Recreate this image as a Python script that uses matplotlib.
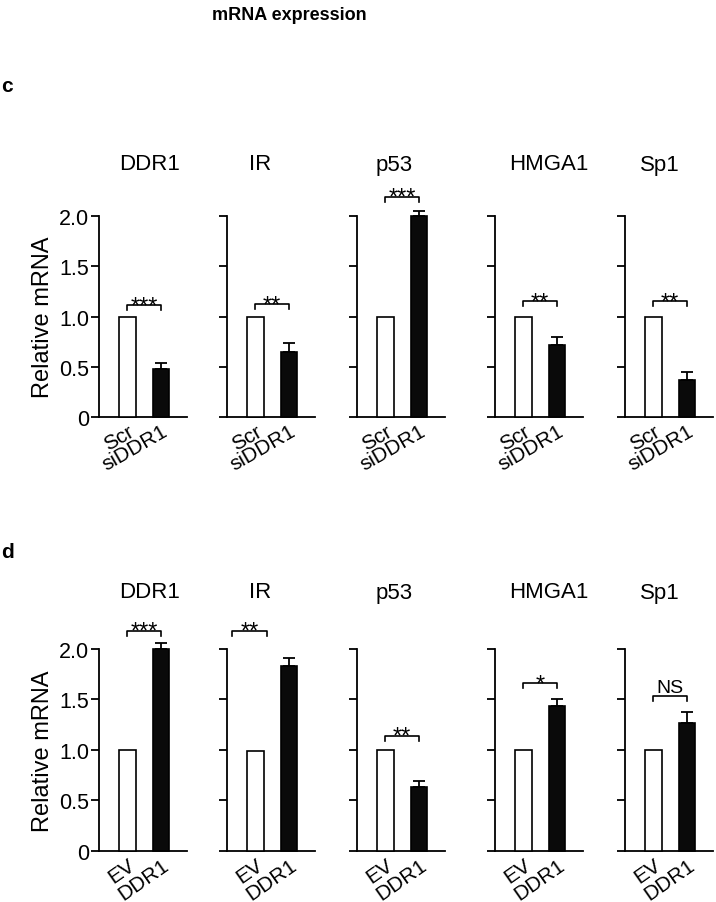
import matplotlib
matplotlib.use("Agg")
import matplotlib.pyplot as plt

plt.rcParams['font.family'] = ['Liberation Sans', 'DejaVu Sans']

# data
genes = ['DDR1', 'IR', 'p53', 'HMGA1', 'Sp1']
yticks = [0, 0.5, 1.0, 1.5, 2.0]
ytick_labels = ['0', '0.5', '1.0', '1.5', '2.0']

# panel c: knockdown
c_groups = ['Scr', 'siDDR1']
c_ctrl = [1.0, 1.0, 1.0, 1.0, 1.0]
c_kd = [0.48, 0.65, 2.0, 0.72, 0.37]
c_kd_err = [0.06, 0.09, 0.05, 0.08, 0.08]
c_sig = ['***', '**', '***', '**', '**']
c_brk_y = [1.11, 1.12, 2.19, 1.15, 1.15]
c_brk_x = [(0, 1), (0, 1), (0, 1), (0, 1), (0, 1)]

# panel d: overexpression
d_groups = ['EV', 'DDR1']
d_ctrl = [1.0, 0.99, 1.0, 1.0, 1.0]
d_oe = [2.0, 1.83, 0.63, 1.43, 1.27]
d_oe_err = [0.06, 0.08, 0.06, 0.07, 0.11]
d_sig = ['***', '**', '**', '*', 'NS']
d_brk_y = [2.18, 2.18, 1.14, 1.66, 1.53]
d_brk_x = [(0, 1), (-0.7, 0.35), (0, 1), (0, 1), (0, 1)]

W, H = 716, 903
fig = plt.figure(figsize=(W / 100, H / 100), dpi=100)

ax_left = [99, 227, 357, 495, 625]
ax_w = 88
title_x = [150, 260, 394, 549, 660]


def panel(y_bottom, y_top, groups, ctrl, treat, err, sig, brk_y, brk_x, rot, title_y):
    for i, g in enumerate(genes):
        ax = fig.add_axes([ax_left[i] / W, (H - y_bottom) / H, ax_w / W, (y_bottom - y_top) / H])
        ax.bar([0], [ctrl[i]], width=0.5, color='white', edgecolor='black', linewidth=1.2,
               clip_on=False, zorder=3)
        ax.bar([1], [treat[i]], width=0.5, color='#0a0a0a', edgecolor='black', linewidth=1.2,
               clip_on=False, zorder=3)
        ax.errorbar([1], [treat[i]], yerr=[[0], [err[i]]], fmt='none', ecolor='black',
                    elinewidth=1.3, capsize=4, capthick=1.3, clip_on=False, zorder=2)
        x0, x1 = brk_x[i]
        y = brk_y[i]
        ax.plot([x0, x0, x1, x1], [y - 0.05, y, y, y - 0.05], color='black', lw=1.2,
                clip_on=False)
        if sig[i] == 'NS':
            ax.text((x0 + x1) / 2, y + 0.045, sig[i], ha='center', va='baseline', fontsize=14)
        else:
            ax.text((x0 + x1) / 2, y - 0.07, sig[i], ha='center', va='baseline', fontsize=17)
        ax.set_xlim(-0.85, 1.78)
        ax.set_ylim(0, 2.0)
        for s in ['top', 'right']:
            ax.spines[s].set_visible(False)
        for s in ['left', 'bottom']:
            ax.spines[s].set_linewidth(1.3)
        ax.set_yticks(yticks)
        ax.tick_params(axis='y', length=6, width=1.3, pad=1, labelsize=15.5)
        if i == 0:
            ax.set_yticklabels(ytick_labels)
            ax.set_ylabel('Relative mRNA', fontsize=17, labelpad=4)
        else:
            ax.set_yticklabels([])
        ax.set_xticks([0, 1])
        ax.set_xticklabels(groups, rotation=rot, ha='right', rotation_mode='anchor', fontsize=15)
        ax.tick_params(axis='x', length=0, pad=3)
        fig.text(title_x[i] / W, (H - title_y) / H, g, ha='center', va='center', fontsize=16)


panel(418, 217, c_groups, c_ctrl, c_kd, c_kd_err, c_sig, c_brk_y, c_brk_x, 30, 165)
panel(851.7, 650, d_groups, d_ctrl, d_oe, d_oe_err, d_sig, d_brk_y, d_brk_x, 35, 593)

fig.text(289 / W, (H - 16) / H, 'mRNA expression', ha='center', va='center',
         fontsize=13, fontweight='bold')
fig.text(7 / W, (H - 86) / H, 'c', ha='center', va='center', fontsize=15, fontweight='bold')
fig.text(7 / W, (H - 552) / H, 'd', ha='center', va='center', fontsize=15, fontweight='bold')

fig.savefig('out.png', dpi=100)
